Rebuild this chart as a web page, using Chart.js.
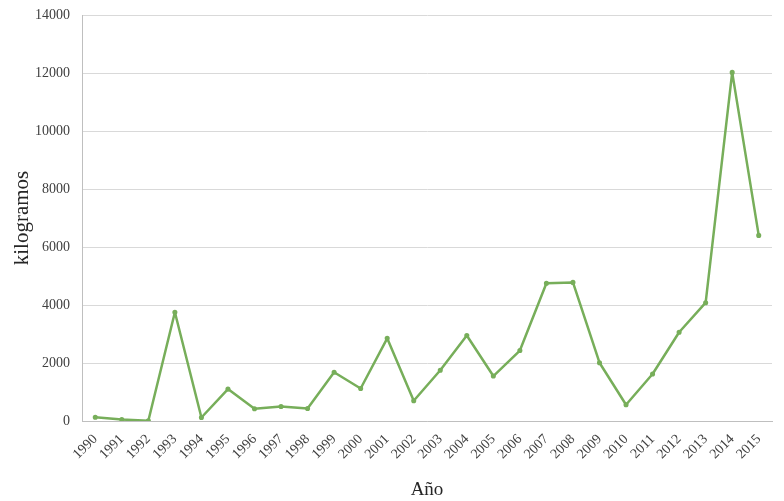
<!DOCTYPE html>
<html>
<head>
<meta charset="utf-8">
<script src="https://cdn.jsdelivr.net/npm/chart.js@4"></script>
<style>
  html, body { margin: 0; padding: 0; background: #fff; }
  #wrap { width: 784px; height: 501px; }
</style>
</head>
<body>
<div id="wrap"><canvas id="kgChart" width="784" height="501"></canvas></div>
<script>
var years = ['1990', '1991', '1992', '1993', '1994', '1995', '1996', '1997', '1998', '1999',
             '2000', '2001', '2002', '2003', '2004', '2005', '2006', '2007', '2008', '2009',
             '2010', '2011', '2012', '2013', '2014', '2015'];
var kilos = [130, 50, 10, 3750, 120, 1100, 420, 500, 430, 1680,
             1120, 2850, 700, 1750, 2950, 1550, 2430, 4750, 4780, 2010,
             560, 1620, 3060, 4080, 12020, 6400];

var ctx = document.getElementById('kgChart').getContext('2d');
var chart = new Chart(ctx, {
    type: 'line',
    data: {
        labels: years,
        datasets: [{
            label: 'kilogramos',
            data: kilos,
            borderColor: '#77AE5A',
            backgroundColor: '#77AE5A',
            borderWidth: 2.5,
            borderJoinStyle: 'round',
            pointRadius: 1.3,
            pointHoverRadius: 2,
            tension: 0
        }]
    },
    options: {
        responsive: false,
        animation: false,
        layout: {
            padding: { left: 10, right: 12, top: 15, bottom: 0 }
        },
        plugins: {
            legend: { display: false },
            tooltip: { enabled: false }
        },
        scales: {
            x: {
                offset: true,
                grid: { display: false },
                border: { display: true, color: '#bfbfbf', width: 1 },
                ticks: {
                    color: '#404040',
                    font: { family: 'Liberation Serif', size: 14 },
                    maxRotation: 45,
                    minRotation: 45,
                    autoSkip: false,
                    padding: 2
                },
                title: {
                    display: true,
                    text: 'Año',
                    color: '#262626',
                    font: { family: 'Liberation Serif', size: 19 },
                    padding: { top: 12, bottom: 0 }
                },
                afterFit: function (scale) { scale.height = 80; }
            },
            y: {
                min: 0,
                max: 14000,
                grid: { color: '#d9d9d9', drawTicks: false },
                border: { display: true, color: '#bfbfbf', width: 1 },
                ticks: {
                    stepSize: 2000,
                    color: '#404040',
                    font: { family: 'Liberation Serif', size: 14 },
                    padding: 12,
                    callback: function (value) { return String(value); }
                },
                title: {
                    display: true,
                    text: 'kilogramos',
                    color: '#262626',
                    font: { family: 'Liberation Serif', size: 21 },
                    padding: { top: 0, bottom: 4 }
                },
                afterFit: function (scale) {
                    scale.width = 72;
                    scale.paddingTop = 0;
                }
            }
        }
    }
});
</script>
</body>
</html>
